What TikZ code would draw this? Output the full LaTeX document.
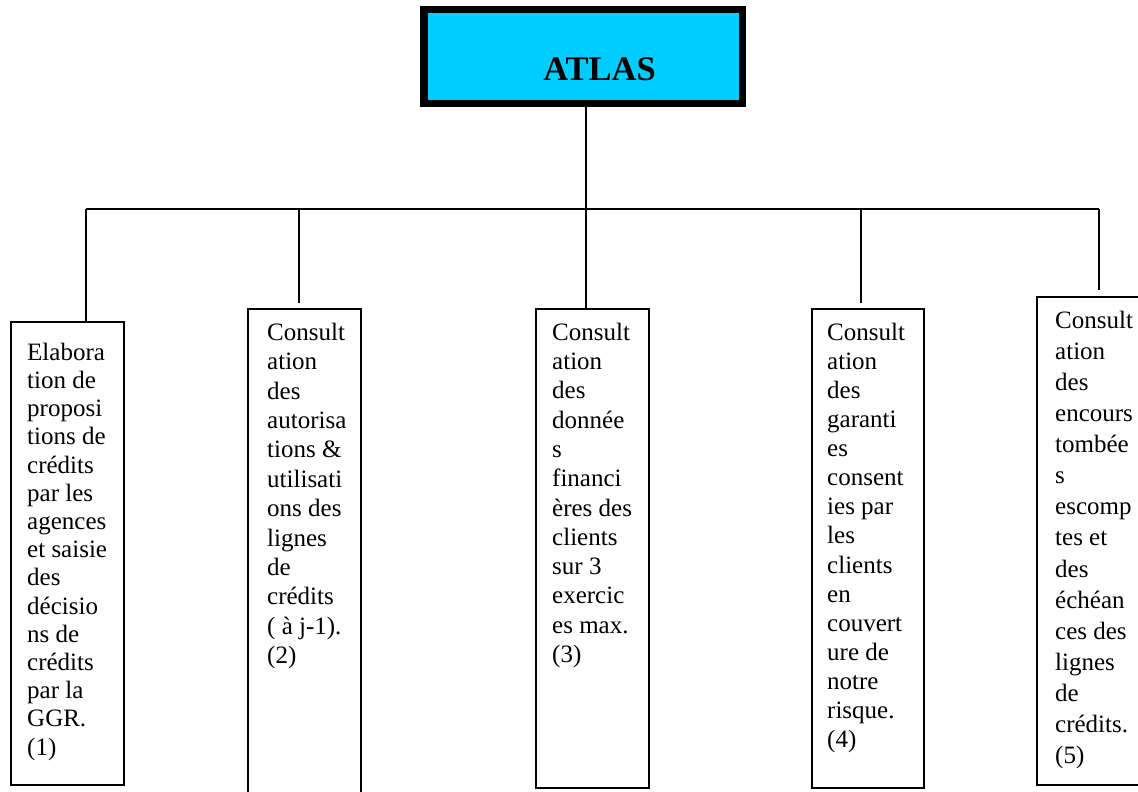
\documentclass[tikz,border=0pt]{standalone}
\usepackage{fontspec}
\setmainfont{Liberation Serif}
\definecolor{atlascyan}{HTML}{00CCFF}
\tikzset{
  box/.style={draw=black, line width=1.5pt, rectangle, inner sep=0pt},
  conn/.style={draw=black, line width=1.5pt},
  boxtext/.style={anchor=north west, inner sep=0pt, align=left},
}
\begin{document}
\begin{tikzpicture}[x=1pt,y=-1pt]
\useasboundingbox (0,0) rectangle (1138,792);
\clip (0,0) rectangle (1138,792);
% ATLAS box
\node[draw=black, line width=7.5pt, fill=atlascyan, rectangle, inner sep=0pt,
      minimum width=318.5pt, minimum height=93.5pt] (atlas) at (583,56.5) {};
\node[anchor=base, inner sep=0pt, font={\fontsize{34.5}{40}\selectfont\bfseries}] (atlastxt) at (599.5,81) {ATLAS};
% boxes
\node[box, minimum width=113pt, minimum height=463pt] (b1) at (67.5,553.5) {};
\node[box, minimum width=113pt, minimum height=500pt] (b2) at (304.5,559) {};
\node[box, minimum width=113pt, minimum height=479pt] (b3) at (592.5,548.5) {};
\node[box, minimum width=112pt, minimum height=479pt] (b4) at (868,548.5) {};
\node[box, minimum width=120pt, minimum height=488pt] (b5) at (1097,541) {};
% texts
\node[boxtext, font={\fontsize{25}{28.2}\selectfont}] (t1) at (27,340) {\rule{0pt}{20pt}Elabora\\tion de\\proposi\\tions de\\crédits\\par les\\agences\\et saisie\\des\\décisio\\ns de\\crédits\\par la\\GGR.\\(1)};
\node[boxtext, font={\fontsize{25}{29.4}\selectfont}] (t2) at (267,320) {\rule{0pt}{20pt}Consult\\ation\\des\\autorisa\\tions \&\\utilisati\\ons des\\lignes\\de\\crédits\\( à j-1).\\(2)};
\node[boxtext, font={\fontsize{25}{29.3}\selectfont}] (t3) at (552,320) {\rule{0pt}{20pt}Consult\\ation\\des\\donnée\\s\\financi\\ères des\\clients\\sur 3\\exercic\\es max.\\(3)};
\node[boxtext, font={\fontsize{25}{29.1}\selectfont}] (t4) at (827,320) {\rule{0pt}{20pt}Consult\\ation\\des\\garanti\\es\\consent\\ies par\\les\\clients\\en\\couvert\\ure de\\notre\\risque.\\(4)};
\node[boxtext, font={\fontsize{25}{31.1}\selectfont}] (t5) at (1055,308) {\rule{0pt}{20pt}Consult\\ation\\des\\encours\\tombée\\s\\escomp\\tes et\\des\\échéan\\ces des\\lignes\\de\\crédits.\\(5)};
% connectors
\coordinate (bus) at (586,209);
\coordinate (busl) at (86,209);
\coordinate (busr) at (1099,209);
\coordinate (j2) at (299,209);
\coordinate (j3) at (586,209);
\coordinate (j4) at (861,209);
\coordinate (e2) at (299,303);
\coordinate (e4) at (861,303);
\coordinate (e5) at (1099,290);
\draw[conn] (atlas.south -| bus) -- (bus);
\draw[conn] (busl) -- (busr);
\draw[conn] (busl) -- (b1.north -| busl);
\draw[conn] (j2) -- (e2);
\draw[conn] (j3) -- (b3.north -| j3);
\draw[conn] (j4) -- (e4);
\draw[conn] (busr) -- (e5);
\end{tikzpicture}
\end{document}
